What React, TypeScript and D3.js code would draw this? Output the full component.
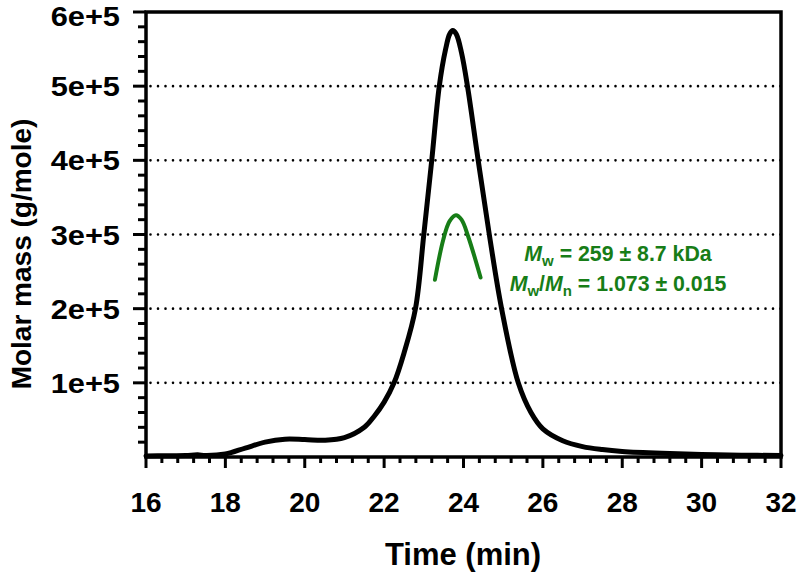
import React from "react";
import * as d3 from "d3";

const timeMin: number[] = [16.0, 16.5, 17.0, 17.3, 17.5, 18.0, 18.5, 19.0, 19.5, 20.0, 20.5, 21.0, 21.5, 21.75, 22.0, 22.25, 22.5, 22.79, 23.0, 23.2, 23.39, 23.55, 23.65, 23.73, 23.82, 23.95, 24.1, 24.37, 24.65, 24.96, 25.38, 25.7, 26.0, 26.5, 27.0, 27.5, 28.0, 29.0, 30.0, 31.0, 32.0];
const molarMass: number[] = [0.015, 0.017, 0.02, 0.03, 0.02, 0.04, 0.12, 0.2, 0.24, 0.235, 0.225, 0.26, 0.4, 0.55, 0.74, 1.0, 1.4, 2.0, 3.0, 4.0, 5.0, 5.5, 5.7, 5.75, 5.7, 5.45, 5.0, 4.0, 3.0, 2.0, 1.0, 0.6, 0.38, 0.22, 0.14, 0.1, 0.075, 0.05, 0.035, 0.025, 0.02].map((v) => v * 1e5);

const fitTime: number[] = [23.28, 23.49, 23.65, 23.81, 23.95, 24.12, 24.43];
const fitMass: number[] = [2.39, 2.93, 3.18, 3.26, 3.2, 2.97, 2.42].map((v) => v * 1e5);

const xTicks: number[] = [16, 18, 20, 22, 24, 26, 28, 30, 32];
const yTicks: number[] = [1e5, 2e5, 3e5, 4e5, 5e5, 6e5];
const yTickLabels: string[] = ["1e+5", "2e+5", "3e+5", "4e+5", "5e+5", "6e+5"];

const GREEN = "#177d17";
const FONT = "'Liberation Sans', Arial, sans-serif";

export default function App() {
  const W = 800, H = 575;
  const L = 146, R = 781, T = 12, B = 457;
  const x = d3.scaleLinear().domain([16, 32]).range([L, R]);
  const y = d3.scaleLinear().domain([0, 6e5]).range([B, T]);

  const line = d3.line<[number, number]>()
    .x((d) => x(d[0]))
    .y((d) => y(d[1]))
    .curve(d3.curveCatmullRom.alpha(0.5));

  const mainPts = timeMin.map((t, i) => [t, molarMass[i]] as [number, number]);
  const fitPts = fitTime.map((t, i) => [t, fitMass[i]] as [number, number]);

  const xMinor = d3.range(16, 32.0001, 0.4).filter((v) => Math.abs(v / 2 - Math.round(v / 2)) > 1e-6);
  const yMinor = d3.range(0, 6e5 + 1, 2e4).filter((v) => v % 1e5 !== 0);

  return (
    <svg width={W} height={H} style={{ position: "absolute", left: 0, top: 0 }} fontFamily={FONT}>
      <rect x={0} y={0} width={W} height={H} fill="white" />
      {yTicks.filter((v) => v < 6e5).map((v) => (
        <line key={"g" + v} x1={L + 4.5} x2={R} y1={y(v)} y2={y(v)} stroke="black" strokeWidth={2.6} strokeDasharray="0 7.5" strokeLinecap="round" />
      ))}
      <path d={line(mainPts) || ""} fill="none" stroke="black" strokeWidth={5} strokeLinejoin="round" strokeLinecap="round" />
      <path d={line(fitPts) || ""} fill="none" stroke={GREEN} strokeWidth={4} strokeLinejoin="round" strokeLinecap="round" />
      <rect x={L} y={T} width={R - L} height={B - T} fill="none" stroke="black" strokeWidth={3.5} />
      {xTicks.map((v) => (
        <line key={"xt" + v} x1={x(v)} x2={x(v)} y1={B} y2={B + 11} stroke="black" strokeWidth={3} />
      ))}
      {xMinor.map((v) => (
        <line key={"xm" + v} x1={x(v)} x2={x(v)} y1={B} y2={B + 6} stroke="black" strokeWidth={3} />
      ))}
      {yTicks.map((v) => (
        <line key={"yt" + v} x1={L - 13} x2={L} y1={y(v)} y2={y(v)} stroke="black" strokeWidth={3} />
      ))}
      {yMinor.map((v) => (
        <line key={"ym" + v} x1={L - 8} x2={L} y1={y(v)} y2={y(v)} stroke="black" strokeWidth={3} />
      ))}
      {xTicks.map((v) => (
        <text key={"xl" + v} x={x(v)} y={512} textAnchor="middle" fontSize={28} fontWeight="bold">{v}</text>
      ))}
      {yTicks.map((v, i) => (
        <text key={"yl" + v} transform={`translate(120,${Math.max(y(v) + 10, 26)}) scale(1.1,1)`} textAnchor="end" fontSize={28} fontWeight="bold">{yTickLabels[i]}</text>
      ))}
      <text x={463} y={565} textAnchor="middle" fontSize={31} fontWeight="bold">Time (min)</text>
      <text transform="translate(31,254) rotate(-90)" textAnchor="middle" fontSize={28} fontWeight="bold">Molar mass (g/mole)</text>
      <text x={618} y={261} textAnchor="middle" fontSize={21.3} fontWeight="bold" fill={GREEN}>
        <tspan fontStyle="italic">M</tspan>
        <tspan fontSize={15} dy={5}>w</tspan>
        <tspan dy={-5}> = 259 ± 8.7 kDa</tspan>
      </text>
      <text x={618} y={291} textAnchor="middle" fontSize={21.3} fontWeight="bold" fill={GREEN}>
        <tspan fontStyle="italic">M</tspan>
        <tspan fontSize={15} dy={5}>w</tspan>
        <tspan dy={-5}>/</tspan>
        <tspan fontStyle="italic">M</tspan>
        <tspan fontSize={15} dy={5}>n</tspan>
        <tspan dy={-5}> = 1.073 ± 0.015</tspan>
      </text>
    </svg>
  );
}
